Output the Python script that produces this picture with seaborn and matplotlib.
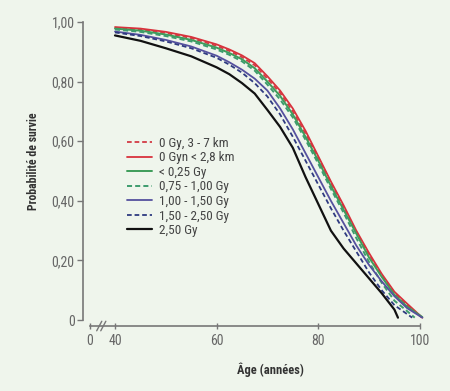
import matplotlib
matplotlib.use("Agg")
import matplotlib.pyplot as plt
import matplotlib.font_manager as fm
import pandas as pd
import seaborn as sns

# ages communs (années) puis point final de chaque courbe
ages = [40, 45, 50, 55, 60, 62.5, 65, 67.5, 70, 72.5, 75, 77.5, 80, 82.5, 85, 87.5, 90, 92.5, 95, 97.5]

labels = ["0 Gy, 3 - 7 km", "0 Gyn < 2,8 km", "< 0,25 Gy", "0,75 - 1,00 Gy",
          "1,00 - 1,50 Gy", "1,50 - 2,50 Gy", "2,50 Gy"]

surv_0gy_far = [0.981, 0.975, 0.963, 0.946, 0.920, 0.903, 0.882, 0.855, 0.810, 0.762,
                0.700, 0.625, 0.545, 0.460, 0.380, 0.295, 0.220, 0.150, 0.090, 0.050]
surv_0gy_near = [0.983, 0.978, 0.967, 0.950, 0.925, 0.908, 0.888, 0.862, 0.818, 0.770,
                 0.710, 0.635, 0.550, 0.465, 0.385, 0.300, 0.225, 0.155, 0.095, 0.055]
surv_lt025 = [0.978, 0.971, 0.958, 0.940, 0.914, 0.896, 0.875, 0.845, 0.800, 0.752,
              0.690, 0.615, 0.535, 0.450, 0.370, 0.290, 0.210, 0.145, 0.085, 0.045]
surv_075_100 = [0.975, 0.967, 0.953, 0.935, 0.908, 0.890, 0.868, 0.837, 0.790, 0.740,
                0.680, 0.605, 0.525, 0.440, 0.360, 0.275, 0.195, 0.125, 0.065, 0.030]
surv_100_150 = [0.968, 0.957, 0.940, 0.918, 0.887, 0.865, 0.840, 0.810, 0.770, 0.710,
                0.640, 0.560, 0.480, 0.400, 0.325, 0.250, 0.185, 0.130, 0.080, 0.040]
surv_150_250 = [0.965, 0.953, 0.935, 0.912, 0.880, 0.857, 0.830, 0.795, 0.750, 0.690,
                0.615, 0.535, 0.455, 0.375, 0.300, 0.230, 0.160, 0.100, 0.050, 0.020]
surv_250 = [0.955, 0.937, 0.912, 0.885, 0.848, 0.825, 0.795, 0.760, 0.705, 0.648,
            0.578, 0.480, 0.390, 0.300, 0.240, 0.190, 0.140, 0.090, 0.035, None]

end_ages = [100.3, 100.5, 100.5, 99.0, 100.5, 98.5, 95.7]
end_values = [0.010, 0.008, 0.010, 0.008, 0.008, 0.008, 0.008]

all_series = [surv_0gy_far, surv_0gy_near, surv_lt025, surv_075_100,
              surv_100_150, surv_150_250, surv_250]

colors = ["#d33a44", "#d8323c", "#3e9c5a", "#3e9c6e", "#55509e", "#2e3a80", "#111111"]
styles = ["--", "-", "-", "--", "-", "--", "-"]
widths = [1.3, 1.3, 1.4, 1.4, 1.3, 1.3, 1.6]

rows = []
for lab, vals, ea, ev in zip(labels, all_series, end_ages, end_values):
    for a, v in zip(ages + [ea], vals + [ev]):
        if v is not None:
            rows.append({"age": a, "survie": v, "groupe": lab})
df = pd.DataFrame(rows)

bg = "#eff5ec"
grey = "#777777"

sns.set_style("ticks")
famille = "DejaVu Sans"
for f in ["Liberation Sans Narrow", "Roboto Condensed", "Open Sans Condensed"]:
    if any(e.name == f for e in fm.fontManager.ttflist):
        famille = f
        break
plt.rcParams["font.family"] = [famille, "DejaVu Sans"]

fig = plt.figure(figsize=(4.5, 3.91), dpi=100, facecolor=bg)
ax = fig.add_axes([0.1844, 0.1662, 0.7711, 0.7813])
ax.set_facecolor(bg)

for lab, c, ls, lw in zip(labels, colors, styles, widths):
    sub = df[df["groupe"] == lab]
    sns.lineplot(data=sub, x="age", y="survie", ax=ax, color=c, linewidth=lw,
                 sort=False, estimator=None, label=lab)
    ax.lines[-1].set_linestyle(ls)
    if ls == "--":
        ax.lines[-1].set_dashes((2.6, 1.6))

ax.set_xlim(33.7, 102)
ax.set_ylim(-0.02, 1.005)

ax.set_xticks([35, 40, 60, 80, 100])
ax.set_xticklabels(["0", "40", "60", "80", "100"])
ax.set_yticks([0, 0.2, 0.4, 0.6, 0.8, 1.0])
ax.set_yticklabels(["0", "0,20", "0,40", "0,60", "0,80", "1,00"])

for s in ["top", "right"]:
    ax.spines[s].set_visible(False)
ax.spines["left"].set_bounds(0, 1)
ax.spines["bottom"].set_bounds(35, 100)
for s in ["left", "bottom"]:
    ax.spines[s].set_color(grey)
    ax.spines[s].set_linewidth(1.2)

ax.tick_params(axis="y", colors=grey, labelsize=10, length=4, width=1, pad=2, labelcolor="#666666")
ax.tick_params(axis="x", colors=grey, labelsize=10, length=4, width=1, direction="inout",
               pad=4, labelcolor="#666666")

# petite coupure de l'axe des x
for xb in [36.9, 37.7]:
    ax.plot([xb - 0.5, xb + 0.5], [-0.036, -0.004], color=grey, lw=1, clip_on=False)

ax.set_ylabel("Probabilité de survie", fontsize=8.5, fontweight="bold", color="#333333")
ax.yaxis.set_label_coords(-0.125, 0.54)
ax.set_xlabel("Âge (années)", fontsize=9, fontweight="bold", color="#333333")
ax.xaxis.set_label_coords(0.539, -0.12)

leg = ax.legend(loc="upper left", bbox_to_anchor=(0.127, 0.62), frameon=False,
                fontsize=9.5, handlelength=1.9, handletextpad=0.5, labelspacing=0.12,
                borderpad=0, borderaxespad=0)
for t in leg.get_texts():
    t.set_color("#444444")

plt.savefig("out.png", dpi=100, facecolor=bg)
